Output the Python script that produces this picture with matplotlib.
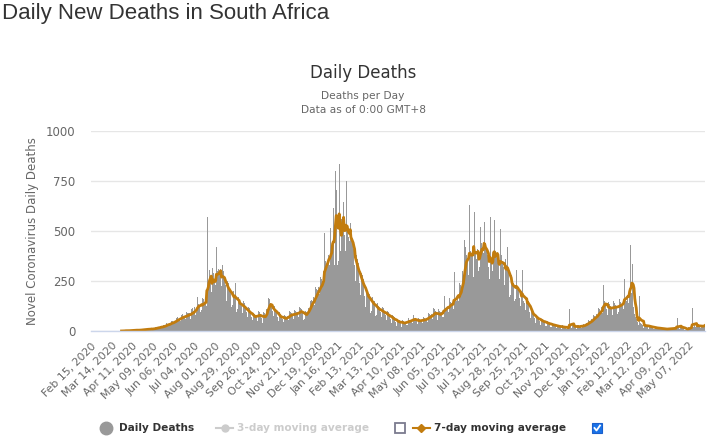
import matplotlib
matplotlib.use('Agg')
import matplotlib.pyplot as plt
from matplotlib.lines import Line2D
from matplotlib.patches import Rectangle
import numpy as np
import pandas as pd

start_date = '2020-02-15'

# daily deaths, one row per week (Sat..Fri)
# Feb 15, 2020 - Jan 1, 2021
deaths_part1 = [
    0, 0, 0, 0, 0, 0, 0,
    0, 0, 0, 0, 0, 0, 0,
    0, 0, 0, 0, 0, 0, 0,
    0, 0, 0, 0, 0, 0, 0,
    0, 0, 0, 0, 0, 0, 0,
    0, 0, 0, 0, 0, 0, 1,
    2, 0, 0, 2, 4, 1, 1,
    2, 1, 0, 3, 6, 1, 5,
    7, 0, 2, 6, 4, 3, 7,
    6, 1, 2, 7, 8, 3, 10,
    8, 3, 5, 12, 9, 7, 14,
    9, 4, 6, 15, 11, 13, 10,
    12, 8, 9, 19, 18, 16, 20,
    22, 10, 12, 27, 25, 23, 21,
    30, 18, 20, 35, 38, 33, 36,
    42, 22, 28, 48, 50, 46, 44,
    52, 35, 40, 63, 68, 62, 60,
    66, 48, 52, 80, 85, 74, 72,
    75, 55, 60, 95, 92, 88, 82,
    88, 62, 70, 108, 115, 98, 92,
    120, 80, 95, 140, 170, 135, 125,
    130, 95, 105, 165, 150, 160, 140,
    155, 110, 125, 572, 190, 240, 305,
    250, 170, 195, 315, 290, 270, 255,
    230, 205, 420, 300, 310, 280, 260,
    310, 225, 200, 330, 300, 265, 240,
    230, 150, 160, 250, 240, 215, 205,
    180, 120, 130, 200, 190, 165, 240,
    140, 95, 110, 170, 160, 150, 145,
    125, 80, 90, 150, 140, 130, 120,
    95, 60, 70, 120, 115, 100, 100,
    70, 45, 55, 90, 85, 80, 75,
    80, 50, 60, 100, 95, 85, 80,
    65, 40, 50, 95, 90, 80, 85,
    110, 85, 165, 150, 160, 140, 120,
    100, 70, 75, 125, 120, 110, 105,
    70, 45, 50, 95, 85, 80, 75,
    60, 40, 45, 80, 75, 70, 70,
    75, 50, 55, 100, 95, 90, 85,
    85, 60, 60, 105, 100, 95, 90,
    95, 70, 70, 120, 115, 110, 100,
    80, 55, 60, 100, 95, 95, 90,
    115, 90, 95, 150, 145, 155, 150,
    170, 120, 130, 220, 200, 210, 205,
    220, 170, 185, 270, 260, 250, 245,
    300, 240, 490, 350, 330, 320, 310,
]

# Jan 2, 2021 - Nov 19, 2021
deaths_part2 = [
    380, 330, 515, 420, 400, 390, 615,
    450, 330, 750, 800, 705, 330, 330,
    350, 835, 400, 560, 540, 520, 645,
    480, 370, 400, 750, 520, 500, 470,
    450, 320, 540, 480, 460, 430, 410,
    330, 220, 250, 380, 360, 340, 320,
    240, 170, 180, 290, 280, 260, 250,
    175, 120, 130, 215, 200, 190, 185,
    140, 90, 100, 170, 165, 150, 150,
    110, 75, 80, 140, 130, 125, 120,
    95, 60, 70, 120, 115, 110, 100,
    80, 50, 55, 100, 95, 90, 85,
    60, 35, 40, 80, 75, 70, 65,
    45, 25, 30, 60, 55, 55, 50,
    40, 20, 25, 55, 50, 45, 45,
    45, 30, 30, 65, 60, 55, 50,
    55, 40, 40, 80, 70, 60, 65,
    50, 30, 35, 65, 60, 60, 55,
    55, 35, 40, 70, 65, 65, 60,
    65, 45, 45, 90, 85, 80, 70,
    85, 60, 60, 115, 110, 100, 95,
    80, 55, 55, 110, 100, 95, 85,
    95, 70, 70, 175, 120, 115, 110,
    120, 90, 95, 165, 150, 145, 140,
    130, 100, 110, 297, 165, 160, 150,
    175, 140, 150, 240, 230, 215, 200,
    300, 240, 260, 455, 420, 380, 350,
    360, 280, 300, 630, 400, 380, 300,
    380, 270, 597, 420, 400, 360, 300,
    410, 300, 320, 450, 522, 440, 420,
    390, 300, 547, 420, 410, 400, 380,
    320, 240, 260, 572, 350, 330, 300,
    380, 555, 290, 400, 390, 370, 330,
    330, 250, 260, 508, 380, 350, 320,
    320, 230, 250, 360, 330, 422, 300,
    250, 170, 180, 280, 260, 250, 240,
    210, 150, 160, 250, 305, 220, 210,
    165, 120, 125, 200, 180, 305, 150,
    140, 95, 105, 170, 165, 160, 150,
    95, 60, 65, 110, 100, 95, 85,
    65, 40, 45, 80, 75, 70, 65,
    50, 30, 35, 60, 60, 55, 50,
    40, 25, 25, 50, 45, 45, 40,
    30, 18, 20, 40, 38, 35, 32,
    25, 12, 15, 32, 30, 28, 25,
    20, 10, 12, 28, 25, 22, 20,
]

# Nov 20, 2021 - May 29, 2022
deaths_part3 = [
    18, 8, 10, 22, 20, 18, 108,
    28, 15, 18, 30, 28, 25, 24,
    22, 12, 15, 30, 28, 25, 22,
    28, 15, 18, 35, 32, 30, 30,
    40, 25, 28, 55, 50, 48, 45,
    60, 40, 45, 80, 75, 70, 70,
    85, 60, 65, 115, 110, 100, 95,
    120, 85, 90, 230, 150, 140, 135,
    110, 80, 85, 145, 135, 125, 120,
    115, 80, 90, 150, 140, 130, 125,
    120, 85, 95, 160, 150, 145, 135,
    140, 100, 110, 213, 258, 160, 150,
    170, 130, 140, 200, 430, 250, 190,
    335, 120, 90, 85, 70, 60, 55,
    45, 25, 30, 175, 40, 35, 30,
    30, 15, 18, 35, 32, 30, 28,
    25, 12, 15, 28, 26, 24, 22,
    18, 8, 10, 22, 20, 18, 16,
    14, 6, 8, 18, 16, 15, 14,
    10, 4, 5, 14, 12, 12, 11,
    12, 5, 6, 16, 15, 14, 13,
    15, 6, 8, 20, 18, 63, 16,
    20, 10, 12, 26, 24, 22, 20,
    10, 4, 5, 14, 12, 12, 10,
    20, 10, 12, 26, 24, 113, 22,
    28, 15, 18, 35, 32, 30, 28,
    25, 12, 15, 32, 30, 28, 26,
    30, 28,
]

y_ticks = [0, 250, 500, 750, 1000]
tick_every = 28

deaths = pd.Series(deaths_part1 + deaths_part2 + deaths_part3, dtype=float)
dates = pd.date_range(start_date, periods=len(deaths), freq='D')
idx = np.arange(len(deaths))

avg7 = deaths.rolling(7, min_periods=1).mean()
avg7[deaths.cumsum() == 0] = np.nan

W, H = 717, 447
fig = plt.figure(figsize=(W / 100, H / 100), dpi=100)
fig.patch.set_facecolor('white')

def fx(px):
    return px / W

def fy(py):
    return 1 - py / H

ax = fig.add_axes([fx(91), fy(331), fx(705) - fx(91), fy(131) - fy(331)])

# one-pixel columns, like the thin bars of the original
ax.vlines(idx, 0, deaths, color='#999999', lw=0.72, antialiased=False, zorder=2)
ax.plot(idx, avg7, color='#c27c0e', lw=2.0, zorder=3, solid_joinstyle='round')

ax.set_xlim(-0.5, len(deaths) - 0.5)
ax.set_ylim(0, 1000)
ax.set_yticks(y_ticks)
ax.set_yticklabels([str(v) for v in y_ticks])
ax.grid(axis='y', color='#e6e6e6', lw=1, zorder=0)
ax.set_axisbelow(True)

tick_pos = idx[::tick_every]
ax.set_xticks(tick_pos)
ax.set_xticklabels([d.strftime('%b %d, %Y') for d in dates[::tick_every]],
                   rotation=45, ha='right', rotation_mode='anchor',
                   fontsize=7.8, color='#666666')
ax.tick_params(axis='x', length=0, pad=7)
ax.tick_params(axis='y', length=0, pad=11, labelsize=8.5, labelcolor='#666666')

for s in ['top', 'right', 'left']:
    ax.spines[s].set_visible(False)
ax.spines['bottom'].set_color('#ccd6eb')
ax.spines['bottom'].set_linewidth(1)
ax.spines['bottom'].set_zorder(4)

ax.set_ylabel('Novel Coronavirus Daily Deaths', fontsize=8.5, color='#666666', labelpad=5)

# titles
fig.text(fx(2), fy(19), 'Daily New Deaths in South Africa', fontsize=16,
         family='Liberation Sans', color='#333333', ha='left', va='baseline')
fig.text(fx(363), fy(73), 'Daily Deaths', fontsize=12, color='#333333', ha='center', va='center')
fig.text(fx(363), fy(96), 'Deaths per Day', fontsize=7.7, color='#666666', ha='center', va='center')
fig.text(fx(363), fy(110), 'Data as of 0:00 GMT+8', fontsize=7.7, color='#666666', ha='center', va='center')

# legend
ly = 428
fig.add_artist(Line2D([fx(106)], [fy(ly)], marker='o', ms=9, color='#999999', lw=0))
fig.text(fx(119), fy(ly), 'Daily Deaths', fontsize=7.6, fontweight='bold', color='#333333',
         ha='left', va='center')

fig.add_artist(Line2D([fx(216), fx(233)], [fy(ly), fy(ly)], color='#cccccc', lw=1.5))
fig.add_artist(Line2D([fx(224.5)], [fy(ly)], marker='o', ms=5, color='#cccccc', lw=0))
fig.text(fx(237), fy(ly), '3-day moving average', fontsize=7.6, fontweight='bold', color='#cccccc',
         ha='left', va='center')
fig.add_artist(Rectangle((fx(395), fy(ly + 5)), fx(10), 10 / H, transform=fig.transFigure,
                         facecolor='white', edgecolor='#7b7b8f', lw=1.3))

fig.add_artist(Line2D([fx(413), fx(430)], [fy(ly), fy(ly)], color='#c27c0e', lw=1.5))
fig.add_artist(Line2D([fx(421.5)], [fy(ly)], marker='D', ms=4.5, color='#c27c0e', lw=0))
fig.text(fx(434), fy(ly), '7-day moving average', fontsize=7.6, fontweight='bold', color='#333333',
         ha='left', va='center')
fig.add_artist(Rectangle((fx(592), fy(ly + 5)), fx(10), 10 / H, transform=fig.transFigure,
                         facecolor='#1a73e8', edgecolor='#1a5fcc', lw=0.8))
fig.add_artist(Line2D([fx(594.5), fx(596.5), fx(600)], [fy(ly), fy(ly + 2.5), fy(ly - 2.5)],
                      color='white', lw=1.3))

fig.savefig('out.png', dpi=100, facecolor='white')
